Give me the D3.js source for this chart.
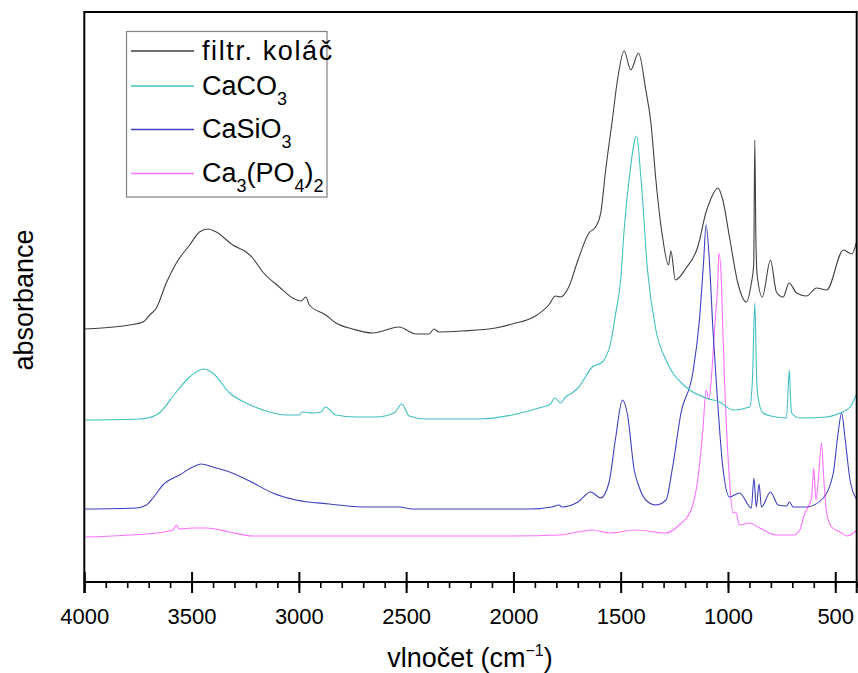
<!DOCTYPE html>
<html><head><meta charset="utf-8">
<script src="https://cdn.jsdelivr.net/npm/d3@7"></script>
<style>
html,body{margin:0;padding:0;background:#fff;}
svg{display:block;}
text{font-family:Arial,"Liberation Sans",sans-serif;fill:#000;}
</style></head>
<body>
<svg id="chart" width="858" height="673"></svg>
<script>
// ---- data: [wavenumber (cm-1), absorbance (arb. units, offset stacked)] ----
const filtrKolac = [[3998,25.1],[3788,25.5],[3727,25.8],[3695,26.5],[3664,27.2],[3618,29.7],[3571,31.7],[3509,33.5],[3463,34.8],[3424,35.1],[3385,34.8],[3308,33.5],[3246,32.8],[3215,32.2],[3168,30.8],[3091,29.3],[3029,28.2],[2990,27.9],[2967,28.3],[2951,27.5],[2874,26.5],[2827,25.7],[2750,25.1],[2657,24.7],[2533,25.3],[2455,24.6],[2393,24.6],[2370,25.1],[2347,24.8],[2238,24.9],[2083,25.2],[2006,25.6],[1897,26.4],[1835,27.5],[1804,28.4],[1781,28.3],[1742,29.3],[1699,32.0],[1648,34.7],[1617,35.3],[1593,36.7],[1570,41.0],[1539,46.0],[1515,50.0],[1484,52.9],[1453,51.0],[1417,52.7],[1383,49.0],[1359,45.7],[1336,40.0],[1305,34.3],[1277,31.5],[1266,32.9],[1245,30.0],[1195,31.2],[1141,33.3],[1102,36.8],[1078,38.2],[1047,39.2],[1024,38.0],[993,34.3],[954,29.7],[915,27.8],[891,29.7],[880,31.5],[875,44.0],[870,34.3],[864,30.5],[840,28.3],[802,32.0],[774,28.8],[743,28.3],[715,29.7],[680,28.7],[634,28.4],[587,29.2],[540,29.0],[462,33.0],[423,32.6],[399,34.0]];
const caco3 = [[3998,16.0],[3742,16.1],[3664,16.5],[3571,18.8],[3509,20.3],[3444,21.1],[3401,20.7],[3323,18.7],[3246,17.7],[3153,16.9],[3060,16.5],[2998,16.5],[2985,16.8],[2936,16.7],[2897,16.8],[2877,17.3],[2827,16.5],[2734,16.3],[2641,16.3],[2556,16.7],[2520,17.6],[2486,16.4],[2408,16.1],[2160,16.1],[2006,16.5],[1881,17.2],[1827,17.6],[1807,18.2],[1780,17.7],[1757,18.3],[1727,18.7],[1699,19.2],[1632,21.3],[1586,21.8],[1547,23.7],[1523,26.7],[1500,30.0],[1484,35.0],[1461,40.0],[1426,44.4],[1406,40.3],[1375,31.0],[1336,25.0],[1289,22.0],[1196,19.3],[1102,18.2],[1040,17.8],[977,17.0],[899,17.3],[886,20.0],[875,27.7],[866,20.0],[860,18.3],[837,16.7],[774,16.3],[727,16.2],[714,21.0],[708,18.0],[704,16.7],[665,16.2],[540,16.3],[477,16.7],[431,17.3],[399,18.7]];
const casio3 = [[3998,7.1],[3757,7.2],[3711,7.5],[3680,8.2],[3634,9.5],[3556,10.5],[3494,11.3],[3455,11.6],[3401,11.3],[3323,10.8],[3230,9.9],[3122,8.7],[3013,8.0],[2858,7.6],[2703,7.3],[2533,7.3],[2471,7.1],[1928,7.1],[1820,7.3],[1788,7.5],[1773,7.3],[1699,7.8],[1640,8.8],[1593,8.2],[1555,9.7],[1523,14.3],[1492,18.0],[1468,16.5],[1437,11.0],[1414,9.3],[1383,8.0],[1336,7.5],[1289,8.0],[1258,11.3],[1219,16.7],[1164,20.7],[1133,26.0],[1114,31.7],[1102,35.5],[1086,31.7],[1070,25.0],[1055,20.0],[1024,11.3],[993,8.3],[946,8.7],[891,7.2],[879,10.2],[868,7.3],[855,9.6],[844,7.3],[802,8.8],[766,7.5],[727,7.4],[714,7.8],[696,7.3],[634,7.3],[556,8.2],[509,10.7],[489,14.3],[470,16.7],[455,14.3],[431,10.0],[399,8.0]];
const ca3po42 = [[3998,4.3],[3664,4.7],[3587,5.0],[3571,5.5],[3559,5.1],[3494,5.2],[3432,5.2],[3323,4.8],[3215,4.4],[2626,4.4],[2006,4.4],[1788,4.5],[1699,4.8],[1632,5.0],[1555,4.7],[1429,5.0],[1289,4.7],[1227,5.5],[1172,7.0],[1141,10.0],[1117,15.0],[1102,19.0],[1089,18.0],[1078,20.0],[1063,25.0],[1047,30.0],[1042,32.7],[1031,30.0],[1024,25.0],[1016,20.0],[993,10.0],[977,6.7],[964,6.8],[946,5.5],[899,5.7],[852,5.2],[774,4.5],[696,4.5],[665,5.0],[642,6.7],[626,7.3],[610,8.3],[600,11.2],[590,8.0],[579,10.0],[564,13.7],[553,10.0],[540,6.7],[517,5.3],[477,4.8],[446,4.4],[399,5.0]];

const seriesNames = ["filtr. koláč", "CaCO3", "CaSiO3", "Ca3(PO4)2"];
const seriesColors = ["#404040", "#40c0c0", "#4040c0", "#ff70ff"];
const majorTicks = [4000, 3500, 3000, 2500, 2000, 1500, 1000, 500];
const minorTicks = d3.range(4000, 399, -100);
const xLabel = "vlnočet (cm";
const yLabel = "absorbance";

// ---- layout ----
const svg = d3.select("#chart");
const L = 84.3, R = 856.7, T = 12, B = 582;
const x = d3.scaleLinear().domain([4000, 400]).range([L, R]);
const y = d3.scaleLinear().domain([-0.2, 56.8]).range([B, T]);

svg.append("defs").append("clipPath").attr("id", "clip")
  .append("rect").attr("x", L).attr("y", T).attr("width", R - L).attr("height", B - T);

const line = d3.line().x(d => x(d[0])).y(d => y(d[1])).curve(d3.curveMonotoneX);
const allSeries = [filtrKolac, caco3, casio3, ca3po42];
const g = svg.append("g").attr("clip-path", "url(#clip)");
[3, 2, 1, 0].forEach(i => {
  g.append("path").datum(allSeries[i])
    .attr("d", line).attr("fill", "none")
    .attr("stroke", seriesColors[i]).attr("stroke-width", 1.1);
});

// frame
svg.append("line").attr("x1", L).attr("x2", R).attr("y1", T).attr("y2", T).attr("stroke", "#000").attr("stroke-width", 2);
svg.append("line").attr("x1", L).attr("x2", L).attr("y1", T - 1).attr("y2", B + 11).attr("stroke", "#000").attr("stroke-width", 2);
svg.append("line").attr("x1", R).attr("x2", R).attr("y1", T - 1).attr("y2", B + 11).attr("stroke", "#000").attr("stroke-width", 2);

// x axis: minor ticks
const minorAxis = d3.axisBottom(x).tickValues(minorTicks).tickSize(6).tickFormat("");
const gMinor = svg.append("g").attr("transform", `translate(0,${B})`).call(minorAxis);
gMinor.select(".domain").remove();
gMinor.selectAll("line").attr("stroke", "#000").attr("stroke-width", 1.6);

// x axis: major ticks
const majorAxis = d3.axisBottom(x).tickValues(majorTicks).tickSize(11).tickPadding(0).tickFormat(d3.format("d"));
const gMajor = svg.append("g").attr("transform", `translate(0,${B})`).call(majorAxis);
gMajor.select(".domain").attr("d", `M${L},0H${R}`).attr("stroke", "#000").attr("stroke-width", 2);
gMajor.selectAll(".tick line").attr("y1", -10).attr("y2", 11).attr("stroke", "#000").attr("stroke-width", 2);
gMajor.selectAll(".tick text").attr("y", 42).attr("dy", null)
  .style("font-size", "22px").style("font-family", "Arial, 'Liberation Sans', sans-serif").attr("fill", "#000");

// axis titles
const xt = svg.append("text").attr("x", 470).attr("y", 667).attr("text-anchor", "middle").style("font-size", "27px");
xt.append("tspan").text(xLabel);
xt.append("tspan").attr("dy", -11).style("font-size", "16px").text("−1");
xt.append("tspan").attr("dy", 11).text(")");

svg.append("text").attr("transform", "translate(33,300) rotate(-90)")
  .attr("text-anchor", "middle").style("font-size", "27px").text(yLabel);

// legend
const lg = svg.append("g");
lg.append("rect").attr("x", 126.5).attr("y", 31.5).attr("width", 200.5).attr("height", 165.5)
  .attr("fill", "#fff").attr("stroke", "#808080").attr("stroke-width", 1.2);
const rowY = [51, 86, 129.5, 173.5];
const legendParts = [
  [["filtr. koláč", 0]],
  [["CaCO", 0], ["3", 1]],
  [["CaSiO", 0], ["3", 1]],
  [["Ca", 0], ["3", 1], ["(PO", 0], ["4", 1], [")", 0], ["2", 1]]
];
seriesNames.forEach((name, i) => {
  lg.append("line").attr("x1", 131).attr("x2", 194).attr("y1", rowY[i]).attr("y2", rowY[i])
    .attr("stroke", seriesColors[i]).attr("stroke-width", 1.3);
  const t = lg.append("text").attr("x", 202).attr("y", rowY[i] + 8.5).style("font-size", "27px");
  if (i === 0) t.style("letter-spacing", "1.6px");
  let sub = 0;
  legendParts[i].forEach(([s, isSub]) => {
    const ts = t.append("tspan").text(s);
    if (isSub && !sub) { ts.attr("dy", 10).style("font-size", "18px"); sub = 1; }
    else if (isSub) { ts.style("font-size", "18px"); }
    else if (!isSub && sub) { ts.attr("dy", -10); sub = 0; }
  });
});
</script>
</body></html>
